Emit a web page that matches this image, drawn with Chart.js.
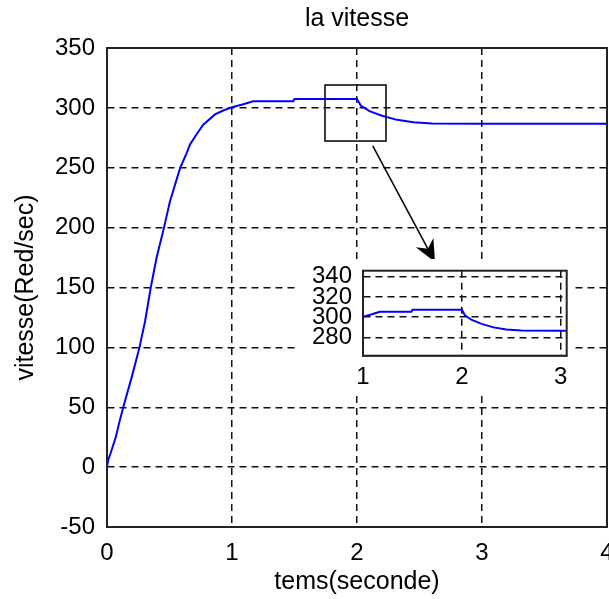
<!DOCTYPE html>
<html><head><meta charset="utf-8">
<script src="https://cdn.jsdelivr.net/npm/chart.js@4/dist/chart.umd.min.js"></script>
<style>
html,body{margin:0;padding:0;background:#fff;}
#wrap{position:relative;width:609px;height:599px;overflow:hidden;}
#main{position:absolute;left:0;top:0;}
#insetBox{position:absolute;left:298px;top:259px;width:275px;height:137px;background:#fff;}
#inset{position:absolute;left:0;top:0;}
</style></head><body>
<div id="wrap">
<canvas id="main" width="609" height="599"></canvas>
<div id="insetBox"><canvas id="inset" width="275" height="137"></canvas></div>
</div>
<script>
// ---- data ----
const timeSec = [0, 0.01, 0.03, 0.07, 0.1, 0.13, 0.2, 0.26, 0.305, 0.35, 0.397, 0.456, 0.504, 0.584, 0.638, 0.664, 0.717, 0.77, 0.864, 0.93, 1.0, 1.09, 1.17, 1.49, 1.5, 2.0, 2.03, 2.1, 2.2, 2.32, 2.45, 2.6, 3.0, 3.5, 4.0];
const speed   = [0, 6, 12, 25, 38, 50, 76, 100, 122, 150, 175, 200, 222, 249.5, 262.5, 269.5, 278, 286, 294.5, 297.8, 300.5, 303, 305.5, 305.5, 307.5, 307.5, 302, 297.3, 293.4, 290, 288, 287, 286.7, 286.7, 286.7];
const mainXTicks = [0, 1, 2, 3, 4];
const mainYTicks = [-50, 0, 50, 100, 150, 200, 250, 300, 350];
const insetXTicks = [1, 2, 3];
const insetYTicks = [280, 300, 320, 340];
const insetXRange = [1, 3.06];
const insetYRange = [262, 346];
const zoomBoxX = [1.744, 2.232];
const zoomBoxY = [272.3, 319.1];
const arrowFrom = [2.126, 268.2];
const arrowTo = [2.624, 171.3];
const titleText = 'la vitesse';
const xTitleText = 'tems(seconde)';
const yTitleText = 'vitesse(Red/sec)';

const FONT = "'Liberation Sans', Arial, sans-serif";
const INK = '#000';
const GRID = '#111';
const DASH = [7, 5];
const points = timeSec.map((t, i) => ({x: t, y: speed[i]}));

const frame = {
  id: 'frame',
  afterDraw(chart) {
    const {ctx, chartArea: a} = chart;
    ctx.save();
    ctx.setLineDash([]);
    ctx.strokeStyle = '#222';
    ctx.lineWidth = 2;
    ctx.strokeRect(a.left, a.top, a.right - a.left, a.bottom - a.top);
    ctx.restore();
  }
};

const annot = {
  id: 'annot',
  afterDraw(chart) {
    const {ctx, scales: {x, y}} = chart;
    ctx.save();
    ctx.setLineDash([]);
    ctx.strokeStyle = '#000';
    ctx.fillStyle = '#000';
    ctx.lineWidth = 1.5;
    const bx0 = x.getPixelForValue(zoomBoxX[0]), bx1 = x.getPixelForValue(zoomBoxX[1]);
    const by0 = y.getPixelForValue(zoomBoxY[1]), by1 = y.getPixelForValue(zoomBoxY[0]);
    ctx.strokeRect(bx0, by0, bx1 - bx0, by1 - by0);
    const ax0 = x.getPixelForValue(arrowFrom[0]), ay0 = y.getPixelForValue(arrowFrom[1]);
    const ax1 = x.getPixelForValue(arrowTo[0]), ay1 = y.getPixelForValue(arrowTo[1]);
    const ang = Math.atan2(ay1 - ay0, ax1 - ax0);
    const L = 22, W = 10, back = 15;
    const bxp = ax1 - back * Math.cos(ang), byp = ay1 - back * Math.sin(ang);
    ctx.beginPath();
    ctx.moveTo(ax0, ay0);
    ctx.lineTo(bxp, byp);
    ctx.stroke();
    const cx = ax1 - L * Math.cos(ang), cy = ay1 - L * Math.sin(ang);
    const nx = -Math.sin(ang), ny = Math.cos(ang);
    ctx.beginPath();
    ctx.moveTo(ax1, ay1);
    ctx.lineTo(cx + nx * W, cy + ny * W);
    ctx.lineTo(bxp, byp);
    ctx.lineTo(cx - nx * W, cy - ny * W);
    ctx.closePath();
    ctx.fill();
    ctx.restore();
  }
};

function tickFont(size) { return {family: FONT, size: size, weight: 'normal', lineHeight: 1.2}; }

new Chart(document.getElementById('main'), {
  type: 'line',
  data: {datasets: [{data: points, borderColor: '#0000ff', borderWidth: 2, pointRadius: 0, tension: 0, fill: false}]},
  options: {
    responsive: false, animation: false, devicePixelRatio: 1,
    layout: {padding: {left: 0, right: 2, top: 0, bottom: 0}},
    plugins: {legend: {display: false}, tooltip: {enabled: false}, title: {display: false}},
    scales: {
      x: {
        type: 'linear', min: mainXTicks[0], max: mainXTicks[mainXTicks.length - 1],
        afterBuildTicks: s => { s.ticks = mainXTicks.map(v => ({value: v})); },
        afterFit: s => { s.height = 72; s.paddingLeft = 0; s.paddingRight = 0; },
        grid: {color: GRID, lineWidth: 1.5, drawTicks: false},
        border: {display: true, color: GRID, width: 1.5, dash: DASH},
        ticks: {color: INK, font: tickFont(24), padding: 12, maxRotation: 0, autoSkip: false},
        title: {display: true, text: xTitleText, color: INK, font: tickFont(25), padding: {top: 0, bottom: 2}}
      },
      xTop: {
        type: 'linear', position: 'top', min: mainXTicks[0], max: mainXTicks[mainXTicks.length - 1],
        afterFit: s => { s.height = 48; s.paddingLeft = 0; s.paddingRight = 0; },
        grid: {display: false, drawTicks: false},
        border: {display: false},
        ticks: {display: false},
        title: {display: true, text: titleText, color: INK, font: tickFont(25), padding: {top: 4, bottom: 0}}
      },
      y: {
        type: 'linear', min: mainYTicks[0], max: mainYTicks[mainYTicks.length - 1],
        afterBuildTicks: s => { s.ticks = mainYTicks.map(v => ({value: v})); },
        afterFit: s => { s.width = 107; s.paddingTop = 0; s.paddingBottom = 0; },
        grid: {color: GRID, lineWidth: 1.5, drawTicks: false},
        border: {display: true, color: GRID, width: 1.5, dash: DASH},
        ticks: {color: INK, font: tickFont(24), padding: 12, autoSkip: false},
        title: {display: true, text: yTitleText, color: INK, font: tickFont(25), padding: {top: 11, bottom: 0}}
      }
    }
  },
  plugins: [frame, annot]
});

new Chart(document.getElementById('inset'), {
  type: 'line',
  data: {datasets: [{data: points, borderColor: '#0000ff', borderWidth: 2, pointRadius: 0, tension: 0, fill: false}]},
  options: {
    responsive: false, animation: false, devicePixelRatio: 1,
    layout: {padding: {left: 0, right: 6.3, top: 11.7, bottom: 0}},
    plugins: {legend: {display: false}, tooltip: {enabled: false}, title: {display: false}},
    scales: {
      x: {
        type: 'linear', min: insetXRange[0], max: insetXRange[1],
        afterBuildTicks: s => { s.ticks = insetXTicks.map(v => ({value: v})); },
        afterFit: s => { s.height = 40.3; s.paddingLeft = 0; s.paddingRight = 0; },
        grid: {color: GRID, lineWidth: 1.5, drawTicks: false},
        border: {display: true, color: GRID, width: 1.5, dash: DASH},
        ticks: {color: INK, font: tickFont(24), padding: 7, maxRotation: 0, autoSkip: false}
      },
      y: {
        type: 'linear', min: insetYRange[0], max: insetYRange[1],
        afterBuildTicks: s => { s.ticks = insetYTicks.map(v => ({value: v})); },
        afterFit: s => { s.width = 65; s.paddingTop = 0; s.paddingBottom = 0; },
        grid: {color: GRID, lineWidth: 1.5, drawTicks: false},
        border: {display: true, color: GRID, width: 1.5, dash: DASH},
        ticks: {color: INK, font: tickFont(24), padding: 11, autoSkip: false}
      }
    }
  },
  plugins: [frame]
});
</script>
</body></html>
